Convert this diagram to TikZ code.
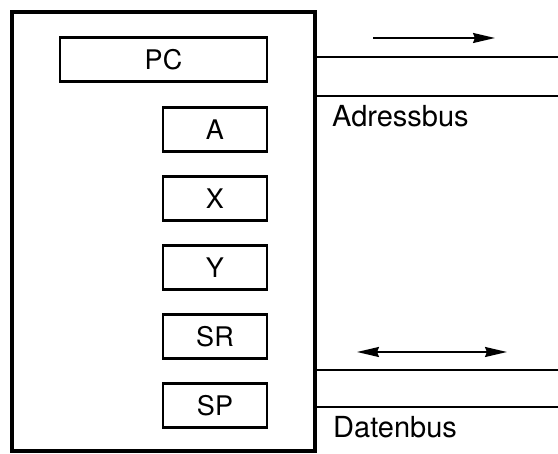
\documentclass[tikz,border=0pt]{standalone}
\usepackage{fontspec}
\setmainfont{TeX Gyre Heros}
\usetikzlibrary{arrows.meta}

\tikzset{
  reg/.style={draw, line width=2.2pt, minimum height=44pt, inner sep=0pt,
    font=\fontsize{27}{32}\selectfont},
  bus/.style={line width=1.8pt},
  busarrow/.style={line width=1.8pt, -{Stealth[length=22pt,width=10pt,inset=2pt]}},
  busarrows/.style={line width=1.8pt,
    {Stealth[length=22pt,width=10pt,inset=2pt]}-{Stealth[length=22pt,width=10pt,inset=2pt]}},
  buslabel/.style={anchor=base west, inner sep=0pt, font=\fontsize{29}{34}\selectfont}
}

\begin{document}
\begin{tikzpicture}[x=1pt,y=-1pt]
    \useasboundingbox (0,0) rectangle (558,454);

    % CPU frame
    \node (cpu) [draw, line width=3.5pt, outer sep=0pt, minimum width=303pt,
      minimum height=439pt] at (163.5,231.5) {};

    % Registers
    \node (pc) [reg, minimum width=207pt] at (163.5,59.5) {PC};
    \node (a) [reg, minimum width=104pt] at (215,129.5) {A};
    \node (x) [reg, minimum width=104pt] at (215,198.5) {X};
    \node (y) [reg, minimum width=104pt] at (215,267.5) {Y};
    \node (sr) [reg, minimum width=104pt] at (215,336.5) {SR};
    \node (sp) [reg, minimum width=104pt] at (215,405.5) {SP};

    % Address bus (one way)
    \coordinate (ab1) at (558,57);
    \coordinate (ab2) at (558,96);
    \draw[bus] (cpu.east |- ab1) -- (ab1);
    \draw[bus] (cpu.east |- ab2) -- (ab2);
    \coordinate (abl) at (373,38);
    \coordinate (abr) at (495,38);
    \draw[busarrow] (abl) -- (abr);
    \node (adr) [buslabel] at (332,127) {Adressbus};

    % Data bus (both ways)
    \coordinate (db1) at (558,370);
    \coordinate (db2) at (558,407);
    \draw[bus] (cpu.east |- db1) -- (db1);
    \draw[bus] (cpu.east |- db2) -- (db2);
    \coordinate (dbl) at (357,352);
    \coordinate (dbr) at (507,352);
    \draw[busarrows] (dbl) -- (dbr);
    \node (dat) [buslabel] at (333,438) {Datenbus};

\end{tikzpicture}
\end{document}
